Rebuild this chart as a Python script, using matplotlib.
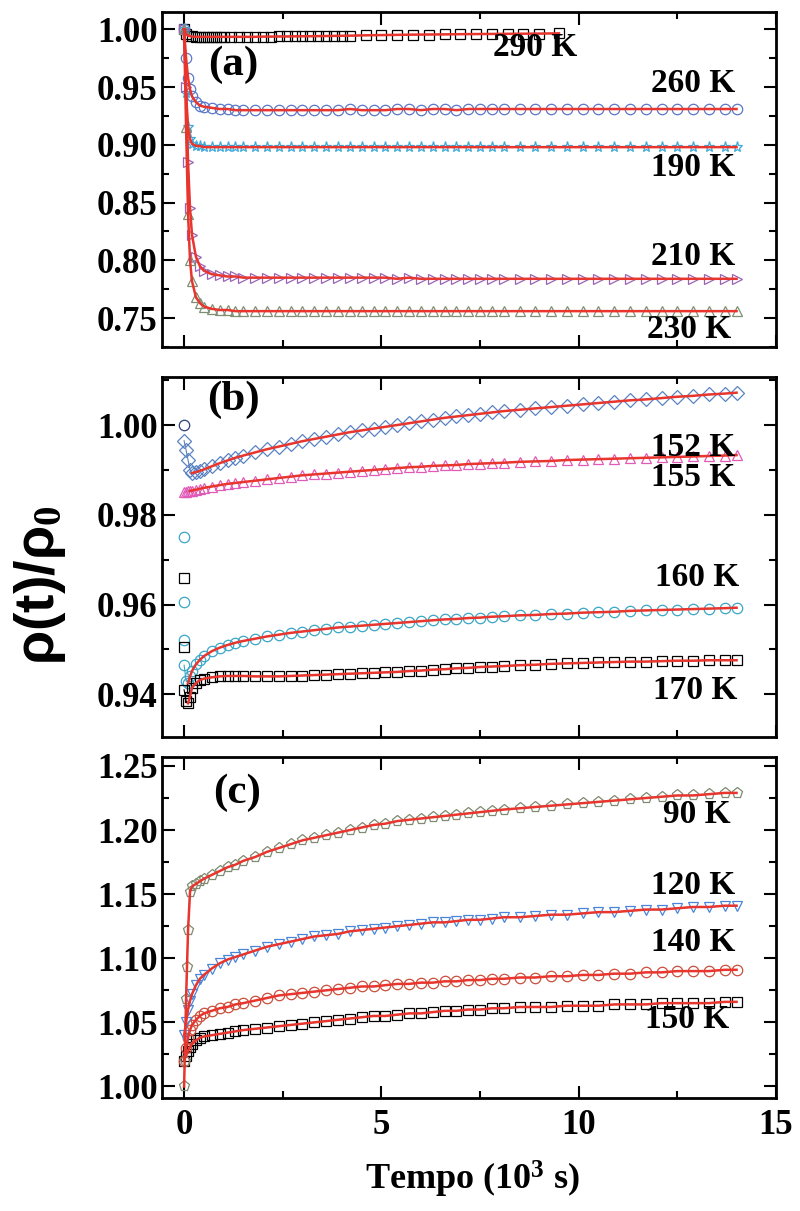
import numpy as np
import matplotlib
matplotlib.use('Agg')
import matplotlib.pyplot as plt
from matplotlib.ticker import MultipleLocator, FormatStrFormatter

plt.rcParams['font.family'] = ['Liberation Serif', 'DejaVu Serif']
plt.rcParams['font.weight'] = 'bold'
plt.rcParams['mathtext.fontset'] = 'custom'
plt.rcParams['mathtext.rm'] = 'Liberation Serif:bold'
plt.rcParams['mathtext.bf'] = 'Liberation Serif:bold'
plt.rcParams['mathtext.default'] = 'bf'

# time grid (10^3 s), shared by most curves
t_main = [0.0, 0.05, 0.1, 0.15, 0.2, 0.3, 0.4, 0.5,
          0.7, 0.9, 1.1, 1.3, 1.5, 1.8, 2.1, 2.4, 2.7, 3.0,
          3.3, 3.6, 3.9, 4.2, 4.5, 4.8, 5.1, 5.4, 5.7, 6.0,
          6.3, 6.6, 6.9, 7.2, 7.5, 7.8, 8.1, 8.5, 8.9, 9.3, 9.7,
          10.1, 10.5, 10.9, 11.3, 11.7, 12.1, 12.5, 12.9, 13.3, 13.7, 14.0]

t_290 = [0.0, 0.05, 0.1, 0.2, 0.3, 0.4, 0.5, 0.6, 0.7, 0.8, 0.9, 1.0,
         1.2, 1.4, 1.6, 1.8, 2.0, 2.2, 2.4, 2.6, 2.8, 3.0, 3.2, 3.4, 3.6,
         3.8, 4.0, 4.2, 4.6, 5.0, 5.4, 5.8, 6.2, 6.6, 7.0, 7.4, 7.8, 8.2,
         8.6, 9.0, 9.5]

# panel (a)
a_290 = [1.000, 0.996, 0.9945, 0.9938, 0.9935, 0.9935, 0.9935, 0.9935,
         0.9935, 0.9935, 0.9935, 0.9935, 0.9935, 0.9935, 0.9935, 0.9935,
         0.9937, 0.9937, 0.9938, 0.9938, 0.9939, 0.9940, 0.9940, 0.9941,
         0.9942, 0.9943, 0.9944, 0.9945, 0.9948, 0.9950, 0.9952, 0.9954,
         0.9955, 0.9956, 0.9958, 0.9959, 0.9960, 0.9961, 0.9962, 0.9963, 0.9965]
a_260 = [1.000, 0.975, 0.958, 0.948, 0.942, 0.937, 0.934, 0.933,
         0.932, 0.931, 0.931, 0.930, 0.930, 0.930, 0.930, 0.930, 0.930, 0.930,
         0.930, 0.930, 0.930, 0.931, 0.930, 0.930, 0.930, 0.931, 0.931, 0.930,
         0.931, 0.931, 0.930, 0.931, 0.931, 0.931, 0.931, 0.931, 0.931, 0.931, 0.931,
         0.931, 0.931, 0.931, 0.931, 0.931, 0.931, 0.931, 0.931, 0.931, 0.931, 0.931]
a_190 = [1.000, 0.945, 0.915, 0.905, 0.901, 0.899, 0.899, 0.898,
         0.898, 0.898, 0.898, 0.898, 0.898, 0.898, 0.898, 0.898, 0.898, 0.898,
         0.898, 0.898, 0.898, 0.898, 0.898, 0.898, 0.898, 0.898, 0.898, 0.898,
         0.898, 0.898, 0.898, 0.898, 0.898, 0.898, 0.898, 0.898, 0.898, 0.898, 0.898,
         0.898, 0.898, 0.898, 0.898, 0.898, 0.898, 0.898, 0.898, 0.898, 0.898, 0.898]
a_210 = [1.000, 0.950, 0.885, 0.845, 0.822, 0.803, 0.795, 0.791,
         0.788, 0.787, 0.786, 0.786, 0.785, 0.785, 0.785, 0.785, 0.785, 0.785,
         0.785, 0.785, 0.785, 0.785, 0.785, 0.785, 0.785, 0.784, 0.785, 0.784,
         0.784, 0.784, 0.784, 0.784, 0.784, 0.784, 0.784, 0.784, 0.784, 0.784, 0.784,
         0.784, 0.784, 0.784, 0.784, 0.784, 0.784, 0.784, 0.784, 0.784, 0.784, 0.784]
a_230 = [1.000, 0.915, 0.840, 0.800, 0.782, 0.768, 0.763, 0.760,
         0.758, 0.757, 0.757, 0.756, 0.756, 0.756, 0.756, 0.756, 0.756, 0.756,
         0.756, 0.756, 0.756, 0.756, 0.756, 0.756, 0.756, 0.756, 0.756, 0.756,
         0.756, 0.756, 0.756, 0.756, 0.756, 0.756, 0.756, 0.756, 0.756, 0.756, 0.756,
         0.756, 0.756, 0.756, 0.756, 0.756, 0.756, 0.756, 0.756, 0.756, 0.756, 0.756]

# panel (b)
b_152 = [0.9965, 0.9944, 0.9922, 0.9900, 0.9893, 0.9895, 0.9898, 0.9901,
         0.9908, 0.9915, 0.9921, 0.9927, 0.9932, 0.9939, 0.9946, 0.9952, 0.9958, 0.9964,
         0.9969, 0.9974, 0.9979, 0.9984, 0.9988, 0.9992, 0.9996, 1.0000, 1.0004, 1.0008,
         1.0012, 1.0016, 1.0019, 1.0022, 1.0025, 1.0028, 1.0031, 1.0034, 1.0037, 1.0040, 1.0043,
         1.0046, 1.0049, 1.0052, 1.0055, 1.0057, 1.0060, 1.0063, 1.0065, 1.0068, 1.0070, 1.0072]
b_155 = [0.9850, 0.9851, 0.9852, 0.9853, 0.9854, 0.9856, 0.9858, 0.9860,
         0.9863, 0.9866, 0.9869, 0.9871, 0.9873, 0.9876, 0.9879, 0.9882, 0.9885, 0.9888,
         0.9890, 0.9892, 0.9894, 0.9896, 0.9898, 0.9900, 0.9902, 0.9904, 0.9906, 0.9907,
         0.9909, 0.9910, 0.9911, 0.9913, 0.9914, 0.9915, 0.9916, 0.9918, 0.9919, 0.9920, 0.9922,
         0.9923, 0.9924, 0.9925, 0.9926, 0.9927, 0.9928, 0.9929, 0.9930, 0.9931, 0.9932, 0.9933]
b_160 = [0.9465, 0.9430, 0.9425, 0.9440, 0.9452, 0.9467, 0.9477, 0.9485,
         0.9496, 0.9504, 0.9510, 0.9515, 0.9519, 0.9524, 0.9529, 0.9533, 0.9537, 0.9540,
         0.9543, 0.9546, 0.9549, 0.9551, 0.9553, 0.9555, 0.9557, 0.9559, 0.9561, 0.9563,
         0.9565, 0.9567, 0.9568, 0.9570, 0.9571, 0.9573, 0.9574, 0.9576, 0.9577, 0.9579, 0.9580,
         0.9582, 0.9583, 0.9584, 0.9586, 0.9587, 0.9588, 0.9589, 0.9590, 0.9591, 0.9592, 0.9593]
b_170 = [0.9410, 0.9385, 0.9380, 0.9395, 0.9415, 0.9425, 0.9432, 0.9435,
         0.9438, 0.9440, 0.9441, 0.9441, 0.9441, 0.9440, 0.9440, 0.9440, 0.9441, 0.9442,
         0.9443, 0.9444, 0.9445, 0.9446, 0.9447, 0.9448, 0.9449, 0.9450, 0.9452, 0.9453,
         0.9455, 0.9456, 0.9458, 0.9459, 0.9461, 0.9462, 0.9463, 0.9465, 0.9466, 0.9468, 0.9469,
         0.9470, 0.9471, 0.9472, 0.9473, 0.9473, 0.9474, 0.9475, 0.9475, 0.9476, 0.9476, 0.9476]
# first readings at t = 0 (stacked)
b_152_start = [1.000]
b_160_start = [0.975, 0.9605, 0.952]
b_170_start = [0.966, 0.9505]

# panel (c)
c_90 = [1.000, 1.068, 1.122, 1.152, 1.156, 1.158, 1.160, 1.162,
        1.165, 1.168, 1.171, 1.173, 1.176, 1.179, 1.183, 1.186, 1.189, 1.192,
        1.194, 1.196, 1.198, 1.200, 1.202, 1.204, 1.205, 1.207, 1.208, 1.209,
        1.210, 1.211, 1.212, 1.213, 1.214, 1.215, 1.216, 1.217, 1.218, 1.219, 1.220,
        1.221, 1.222, 1.223, 1.224, 1.225, 1.226, 1.227, 1.227, 1.228, 1.229, 1.229]
c_120 = [1.040, 1.050, 1.060, 1.067, 1.072, 1.079, 1.084, 1.087,
         1.092, 1.096, 1.099, 1.101, 1.103, 1.106, 1.109, 1.111, 1.113, 1.115,
         1.117, 1.118, 1.119, 1.121, 1.122, 1.123, 1.124, 1.125, 1.126, 1.127,
         1.128, 1.128, 1.129, 1.130, 1.130, 1.131, 1.132, 1.132, 1.133, 1.134, 1.134,
         1.135, 1.136, 1.136, 1.137, 1.138, 1.138, 1.139, 1.140, 1.140, 1.141, 1.141]
c_140 = [1.020, 1.030, 1.038, 1.044, 1.048, 1.052, 1.055, 1.057,
         1.059, 1.061, 1.062, 1.064, 1.065, 1.067, 1.069, 1.071, 1.072, 1.073,
         1.074, 1.075, 1.076, 1.077, 1.078, 1.078, 1.079, 1.080, 1.080, 1.081,
         1.081, 1.082, 1.082, 1.083, 1.083, 1.084, 1.084, 1.085, 1.085, 1.086, 1.086,
         1.087, 1.087, 1.088, 1.088, 1.089, 1.089, 1.090, 1.090, 1.090, 1.091, 1.091]
c_150 = [1.020, 1.024, 1.028, 1.031, 1.033, 1.036, 1.038, 1.039,
         1.040, 1.041, 1.042, 1.043, 1.044, 1.045, 1.046, 1.047, 1.048, 1.049,
         1.050, 1.051, 1.052, 1.053, 1.054, 1.055, 1.055, 1.056, 1.057, 1.057,
         1.058, 1.059, 1.059, 1.060, 1.060, 1.061, 1.061, 1.062, 1.062, 1.062, 1.063,
         1.063, 1.063, 1.064, 1.064, 1.064, 1.065, 1.065, 1.065, 1.065, 1.066, 1.066]
c_90_start = [1.020, 1.093]

FIT = '#e8352e'

fig = plt.figure(figsize=(8, 12.11), dpi=100)
left, width = 0.203, 0.767
ax_a = fig.add_axes([left, 0.7135, width, 0.2766])
ax_b = fig.add_axes([left, 0.3914, width, 0.2973], sharex=ax_a)
ax_c = fig.add_axes([left, 0.0933, width, 0.2816], sharex=ax_a)


def draw(ax, t, y, marker, color, ms=7, fit_from=0, line_color=None):
    ax.plot(t, y, '-', color=line_color or color, lw=0.8, zorder=2)
    ax.plot(t, y, linestyle='none', marker=marker, ms=ms, mfc='none',
            mec=color, mew=0.9, zorder=3)
    ax.plot(t[fit_from:], y[fit_from:], '-', color=FIT, lw=1.8, zorder=4)


# (a)
draw(ax_a, t_290, a_290, 's', 'black', ms=6.5)
draw(ax_a, t_main, a_260, 'o', '#5a78c8', ms=7.5)
draw(ax_a, t_main, a_190, '*', '#3fa9d8', ms=8)
draw(ax_a, t_main, a_210, '>', '#9a64b4', ms=7.5)
draw(ax_a, t_main, a_230, '^', '#7f8f72', ms=7.5, line_color='#4aa04a')

# (b)
draw(ax_b, t_main, b_152, 'D', '#5b82c2', ms=7.5, fit_from=4)
draw(ax_b, t_main, b_155, '^', '#e05ab8', ms=7.5, fit_from=3)
draw(ax_b, t_main, b_160, 'o', '#3aa6c8', ms=7.5, fit_from=2)
draw(ax_b, t_main, b_170, 's', 'black', ms=6.5, fit_from=2)
ax_b.plot([0.0] * len(b_152_start), b_152_start, linestyle='none', marker='o',
          ms=7.5, mfc='none', mec='#2e3f7a', mew=0.9, zorder=3)
ax_b.plot([0.0] * len(b_160_start), b_160_start, linestyle='none', marker='o',
          ms=7.5, mfc='none', mec='#3aa6c8', mew=0.9, zorder=3)
ax_b.plot([0.0] * len(b_170_start), b_170_start, linestyle='none', marker='s',
          ms=6.5, mfc='none', mec='black', mew=0.9, zorder=3)

# (c)
draw(ax_c, t_main, c_150, 's', 'black', ms=6.5)
draw(ax_c, t_main, c_140, 'o', '#c8503c', ms=7.5)
draw(ax_c, t_main, c_120, 'v', '#4a86d8', ms=7.5)
draw(ax_c, t_main, c_90, 'p', '#7f8a70', ms=8, line_color='#4aa84a')
ax_c.plot([0.03, 0.07], c_90_start, linestyle='none', marker='p', ms=8,
          mfc='none', mec='#7f8a70', mew=0.9, zorder=3)

# axes styling
for ax in (ax_a, ax_b, ax_c):
    ax.set_xlim(-0.55, 15)
    ax.xaxis.set_major_locator(MultipleLocator(5))
    ax.xaxis.set_minor_locator(MultipleLocator(2.5))
    ax.tick_params(which='both', direction='in', top=True, right=True,
                   width=1.5, labelsize=25)
    ax.tick_params(which='major', length=9)
    ax.tick_params(which='minor', length=5)
    ax.yaxis.set_major_formatter(FormatStrFormatter('%.2f'))
    for s in ax.spines.values():
        s.set_linewidth(2)
    for lab in ax.get_yticklabels() + ax.get_xticklabels():
        lab.set_fontweight('bold')

ax_a.set_ylim(0.725, 1.015)
ax_a.yaxis.set_major_locator(MultipleLocator(0.05))
ax_a.yaxis.set_minor_locator(MultipleLocator(0.025))
ax_b.set_ylim(0.9305, 1.0107)
ax_b.yaxis.set_major_locator(MultipleLocator(0.02))
ax_b.yaxis.set_minor_locator(MultipleLocator(0.01))
ax_c.set_ylim(0.991, 1.257)
ax_c.yaxis.set_major_locator(MultipleLocator(0.05))
ax_c.yaxis.set_minor_locator(MultipleLocator(0.025))

ax_a.tick_params(labelbottom=False)
ax_b.tick_params(labelbottom=False)
ax_c.xaxis.set_major_formatter(FormatStrFormatter('%d'))
ax_c.tick_params(axis='x', pad=8)

lab_kw = dict(fontsize=24, fontweight='bold', ha='center', va='center', zorder=5)
ax_a.text(1.25, 0.969, '(a)', fontsize=31, fontweight='bold', ha='center', va='center')
ax_a.text(8.9, 0.9845, '290 K', **lab_kw)
ax_a.text(12.9, 0.953, '260 K', **lab_kw)
ax_a.text(12.9, 0.880, '190 K', **lab_kw)
ax_a.text(12.9, 0.803, '210 K', **lab_kw)
ax_a.text(12.8, 0.740, '230 K', **lab_kw)

ax_b.text(1.25, 1.0056, '(b)', fontsize=31, fontweight='bold', ha='center', va='center')
ax_b.text(12.9, 0.9951, '152 K', **lab_kw)
ax_b.text(12.9, 0.9882, '155 K', **lab_kw)
ax_b.text(13.0, 0.9661, '160 K', **lab_kw)
ax_b.text(12.95, 0.9409, '170 K', **lab_kw)

ax_c.text(1.35, 1.229, '(c)', fontsize=31, fontweight='bold', ha='center', va='center')
ax_c.text(13.0, 1.212, '90 K', **lab_kw)
ax_c.text(12.9, 1.157, '120 K', **lab_kw)
ax_c.text(12.9, 1.112, '140 K', **lab_kw)
ax_c.text(12.75, 1.052, '150 K', **lab_kw)

fig.text(0.59, 0.026, 'Tempo (10$^{3}$ s)', fontsize=26, fontweight='bold',
         ha='center', va='center')
fig.text(0.05, 0.517, 'ρ(t)/ρ$_{0}$', fontsize=40, fontweight='bold', rotation=90,
         ha='center', va='center', family=['Liberation Sans', 'DejaVu Sans'])

fig.savefig('out.png', dpi=100)
